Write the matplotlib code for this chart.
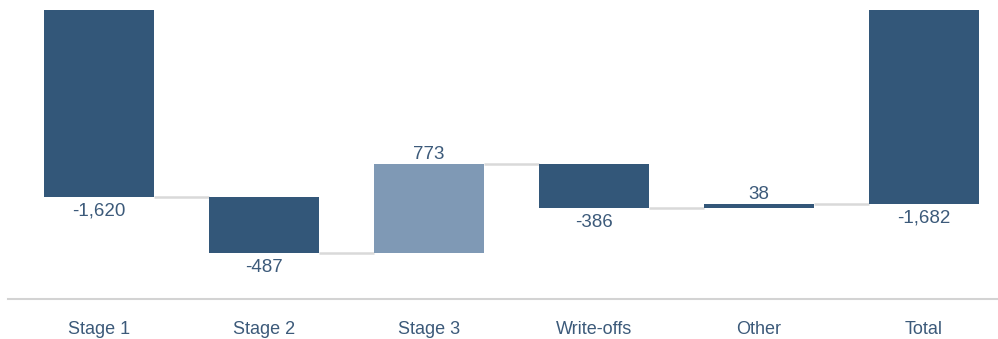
import numpy as np
import matplotlib.pyplot as plt

plt.rcParams['font.family'] = ['Liberation Sans', 'DejaVu Sans']

categories = ['Stage 1', 'Stage 2', 'Stage 3', 'Write-offs', 'Other', 'Total']
values = [-1620, -487, 773, -386, 38, -1682]
is_total = [False, False, False, False, False, True]
labels = ['-1,620', '-487', '773', '-386', '38', '-1,682']

dark = '#335779'
light = '#7f99b5'
text_col = '#3c5a7a'
conn_col = '#d9d9d9'

fig = plt.figure(figsize=(9.98, 3.39), dpi=100)
ax = fig.add_axes([8 / 998, 40 / 339, 990 / 998, 289 / 339])

x = np.arange(len(categories))
width = 0.667

# running level for waterfall
starts = []
ends = []
level = 0
for v, tot in zip(values, is_total):
    if tot:
        starts.append(0)
        ends.append(v)
    else:
        starts.append(level)
        ends.append(level + v)
        level += v

for i, (s, e) in enumerate(zip(starts, ends)):
    col = light if categories[i] == 'Stage 3' else dark
    ax.bar(x[i], e - s, bottom=s, width=width, color=col, edgecolor='none', zorder=3)
    if values[i] < 0:
        ax.annotate(labels[i], (x[i], min(s, e)), xytext=(0, -4), textcoords='offset points',
                    ha='center', va='top', fontsize=13.5, color=text_col)
    else:
        ax.annotate(labels[i], (x[i], max(s, e)), xytext=(0, 1), textcoords='offset points',
                    ha='center', va='bottom', fontsize=13.5, color=text_col)

# connectors
for i in range(len(categories) - 1):
    ax.plot([x[i] + width / 2, x[i + 1] - width / 2], [ends[i], ends[i]],
            color=conn_col, lw=1.8, zorder=2, solid_capstyle='butt')

ax.set_xlim(-0.55, 5.45)
ax.set_ylim(-2505, 0)
ax.set_xticks(x)
ax.set_xticklabels(categories, fontsize=13, color=text_col)
ax.tick_params(axis='x', length=0, pad=16)
ax.set_yticks([])
for sp in ['top', 'left', 'right']:
    ax.spines[sp].set_visible(False)
ax.spines['bottom'].set_color('#d3d3d3')
ax.spines['bottom'].set_linewidth(1.5)

fig.savefig('out.png', dpi=100)
